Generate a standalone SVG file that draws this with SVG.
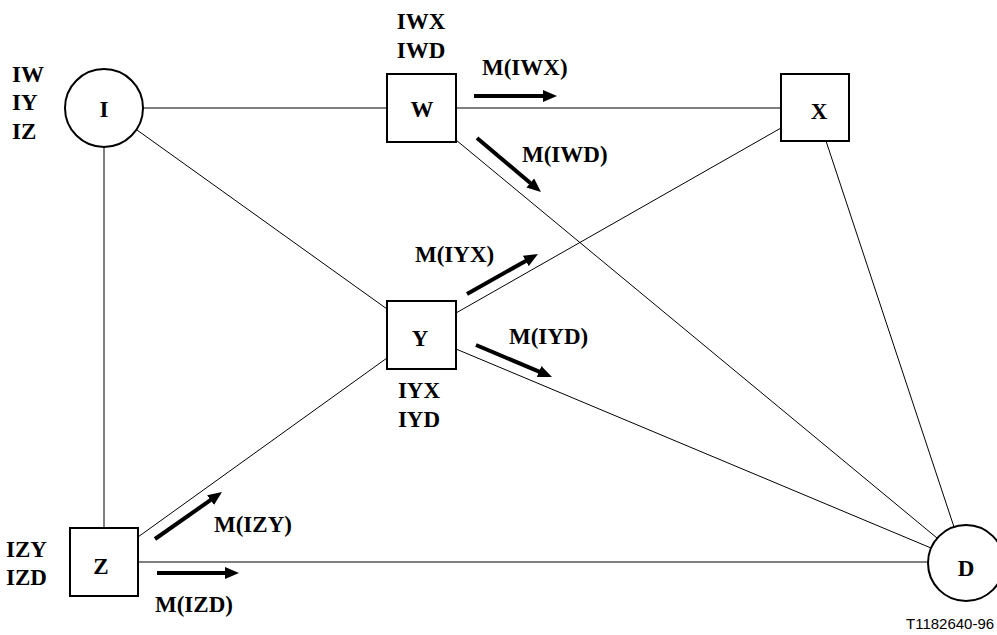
<svg xmlns="http://www.w3.org/2000/svg" width="997" height="635" viewBox="0 0 997 635">
<style>
.t{font-family:"Liberation Serif","Times New Roman",serif;font-weight:bold;font-size:23px;fill:#000}
.c{text-anchor:middle}
.node{fill:#fff;stroke:#000;stroke-width:2}
.ln{stroke:#000;stroke-width:1;fill:none}
.ar{stroke:#000;stroke-width:4;fill:none;marker-end:url(#ah)}
.ref{font-family:"Liberation Sans",Arial,sans-serif;font-size:15px;fill:#000}
</style>
<defs>
<marker id="ah" markerUnits="userSpaceOnUse" markerWidth="14" markerHeight="12" refX="2" refY="6" orient="auto">
<path d="M0,0 L14,6 L0,12 Z" fill="#000"/>
</marker>
</defs>
<g id="connectors">
<line class="ln" x1="143" y1="108" x2="387" y2="108"/>
<line class="ln" x1="456" y1="108" x2="781" y2="108"/>
<line class="ln" x1="104" y1="147" x2="104" y2="528"/>
<line class="ln" x1="137" y1="130" x2="387" y2="309"/>
<line class="ln" x1="456" y1="140" x2="937" y2="538"/>
<line class="ln" x1="456" y1="313" x2="781" y2="128"/>
<line class="ln" x1="456" y1="349" x2="931" y2="548"/>
<line class="ln" x1="826" y1="141" x2="954" y2="527"/>
<line class="ln" x1="138" y1="537" x2="387" y2="358"/>
<line class="ln" x1="138" y1="562" x2="928" y2="562"/>
</g>
<g id="messages">
<line class="ar" x1="474" y1="96" x2="545" y2="96"/>
<line class="ar" x1="477" y1="138" x2="531.8" y2="184.3"/>
<line class="ar" x1="467" y1="294" x2="527.5" y2="259.9"/>
<line class="ar" x1="476" y1="345" x2="540.9" y2="372.3"/>
<line class="ar" x1="155" y1="539" x2="212.2" y2="498.9"/>
<line class="ar" x1="157" y1="573" x2="227" y2="573"/>
<text class="t" x="482" y="75">M(IWX)</text>
<text class="t" x="522" y="162">M(IWD)</text>
<text class="t" x="415" y="262">M(IYX)</text>
<text class="t" x="509" y="344">M(IYD)</text>
<text class="t" x="214" y="532">M(IZY)</text>
<text class="t" x="155" y="612">M(IZD)</text>
</g>
<g id="node-I">
<circle class="node" cx="104" cy="108" r="39"/>
<text class="t c" x="104" y="117">I</text>
<text class="t" x="12" y="82">IW</text>
<text class="t" x="12" y="110">IY</text>
<text class="t" x="12" y="139">IZ</text>
</g>
<g id="node-W">
<rect class="node" x="387" y="74" width="69" height="68"/>
<text class="t c" x="422" y="117">W</text>
<text class="t c" x="421" y="29">IWX</text>
<text class="t c" x="421" y="58">IWD</text>
</g>
<g id="node-X">
<rect class="node" x="781" y="74" width="68" height="67"/>
<text class="t c" x="819" y="119">X</text>
</g>
<g id="node-Y">
<rect class="node" x="387" y="301" width="69" height="68"/>
<text class="t c" x="420" y="346">Y</text>
<text class="t c" x="419" y="398">IYX</text>
<text class="t c" x="419" y="427">IYD</text>
</g>
<g id="node-Z">
<rect class="node" x="70" y="528" width="68" height="68"/>
<text class="t c" x="101" y="574">Z</text>
<text class="t" x="6" y="557">IZY</text>
<text class="t" x="6" y="585">IZD</text>
</g>
<g id="node-D">
<circle class="node" cx="966" cy="563" r="38"/>
<text class="t c" x="966" y="576">D</text>
</g>
<text class="ref" x="906" y="629">T1182640-96</text>
</svg>
